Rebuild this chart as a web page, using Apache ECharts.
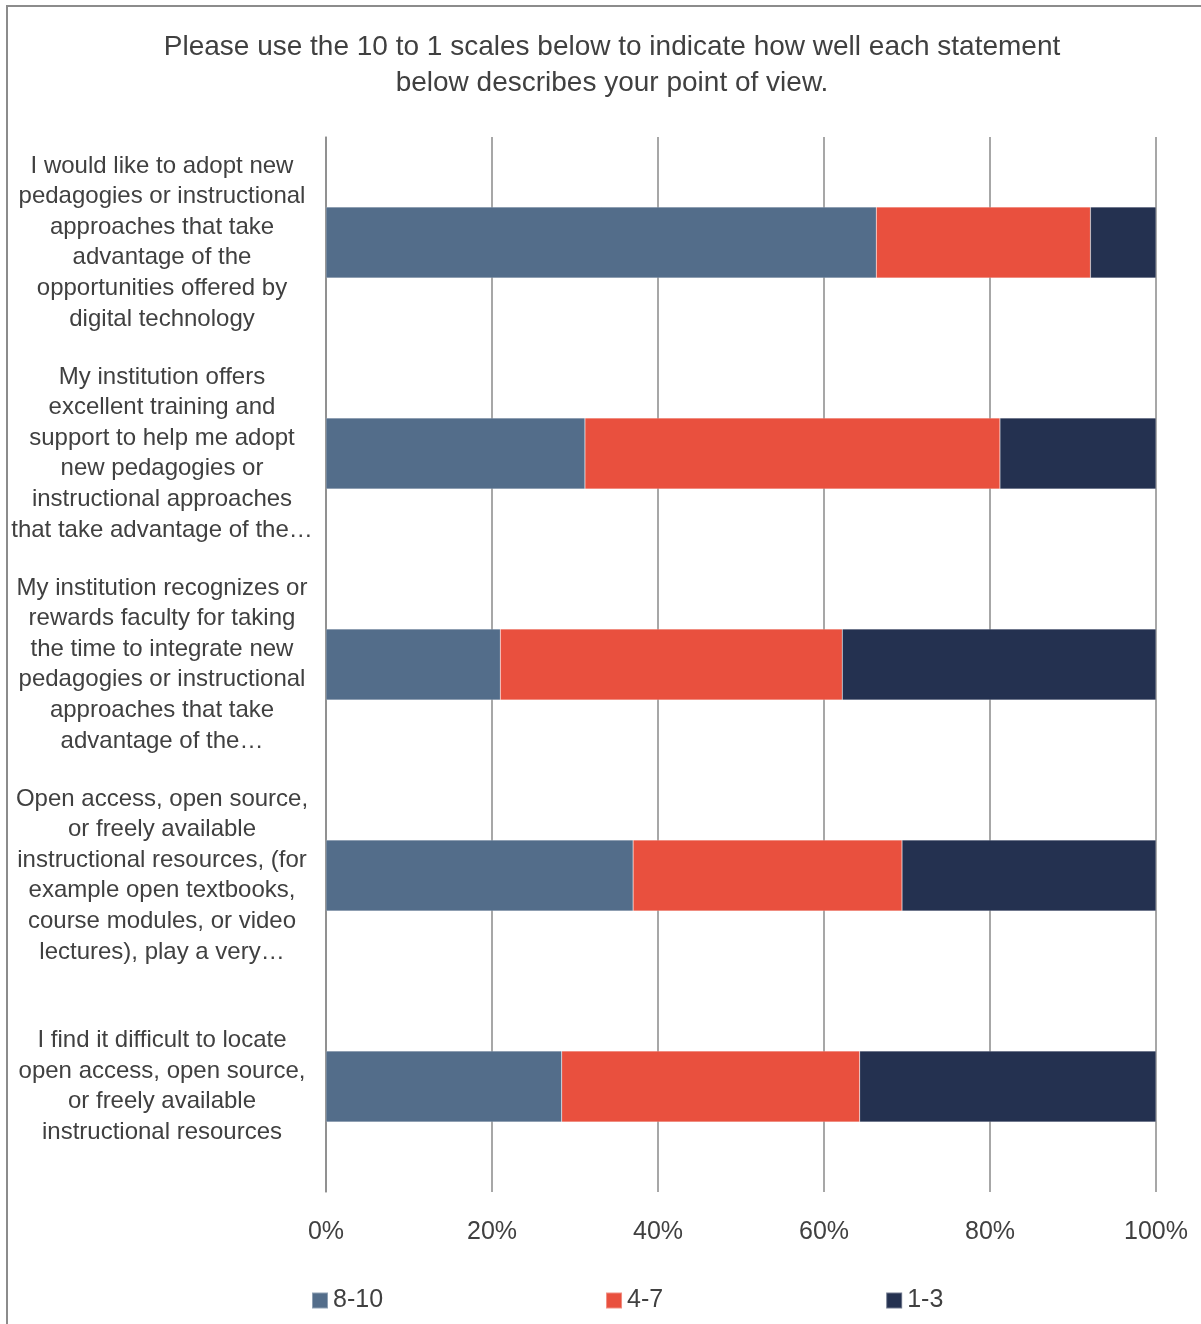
<!DOCTYPE html>
<html><head><meta charset="utf-8">
<script src="https://cdn.jsdelivr.net/npm/echarts@6/dist/echarts.min.js"></script>
<style>html,body{margin:0;padding:0;background:#fff}#c{width:1201px;height:1324px}</style>
</head><body><div id="c"></div>
<script>
const categories = [
  "I would like to adopt new\npedagogies or instructional\napproaches that take\nadvantage of the\nopportunities offered by\ndigital technology",
  "My institution offers\nexcellent training and\nsupport to help me adopt\nnew pedagogies or\ninstructional approaches\nthat take advantage of the…",
  "My institution recognizes or\nrewards faculty for taking\nthe time to integrate new\npedagogies or instructional\napproaches that take\nadvantage of the…",
  "Open access, open source,\nor freely available\ninstructional resources, (for\nexample open textbooks,\ncourse modules, or video\nlectures), play a very…",
  "I find it difficult to locate\nopen access, open source,\nor freely available\ninstructional resources"
];
const seriesNames = ["8-10", "4-7", "1-3"];
const high = [66.3, 31.2, 21.0, 37.0, 28.4];
const mid = [25.8, 50.0, 41.2, 32.4, 35.9];
const low = [7.9, 18.8, 37.8, 30.6, 35.7];
const tickLabels = ["0%", "20%", "40%", "60%", "80%", "100%"];
const colors = ["#536D8A", "#E9503E", "#243150"];

const font = "'Liberation Sans Narrow', 'Arial Narrow', 'Liberation Sans', sans-serif";
const chart = echarts.init(document.getElementById('c'), null, {renderer: 'canvas'});
const dataSets = [high, mid, low];
chart.setOption({
  animation: false,
  color: colors,
  graphic: [{
    type: 'rect', shape: {x: 7, y: 6, width: 1300, height: 1400},
    style: {fill: 'none', stroke: '#8c8c8c', lineWidth: 2}, silent: true
  }],
  title: {
    text: "Please use the 10 to 1 scales below to indicate how well each statement\nbelow describes your point of view.",
    left: 607, top: 24, textAlign: 'center',
    textStyle: {fontFamily: font, fontSize: 28, fontWeight: 'normal', color: '#404040', lineHeight: 36}
  },
  legend: {
    left: 306, top: 1283, itemWidth: 16, itemHeight: 16, itemGap: 222,
    icon: 'rect',
    textStyle: {fontFamily: font, fontSize: 25, color: '#404040'},
    data: seriesNames
  },
  grid: {left: 326, right: 45, top: 137, bottom: 132, containLabel: false},
  xAxis: {
    type: 'value', min: 0, max: 100, interval: 20,
    axisLine: {show: false}, axisTick: {show: false},
    splitLine: {show: true, lineStyle: {color: '#8a8a8a', width: 1.5}},
    axisLabel: {
      fontFamily: font, fontSize: 25, color: '#404040', margin: 28,
      formatter: v => tickLabels[Math.round(v / 20)]
    }
  },
  yAxis: {
    type: 'category', data: categories, inverse: true,
    axisLine: {show: true, lineStyle: {color: '#8a8a8a', width: 1.5}},
    axisTick: {show: false},
    axisLabel: {
      fontFamily: font, fontSize: 24, color: '#404040', lineHeight: 30.6,
      align: 'center', margin: 164
    }
  },
  series: seriesNames.map((n, i) => ({
    name: n, type: 'bar', stack: 'total', barWidth: 71,
    data: dataSets[i],
    itemStyle: {color: colors[i], borderColor: 'rgba(255,255,255,0.35)', borderWidth: 0.5}
  }))
});
</script></body></html>
